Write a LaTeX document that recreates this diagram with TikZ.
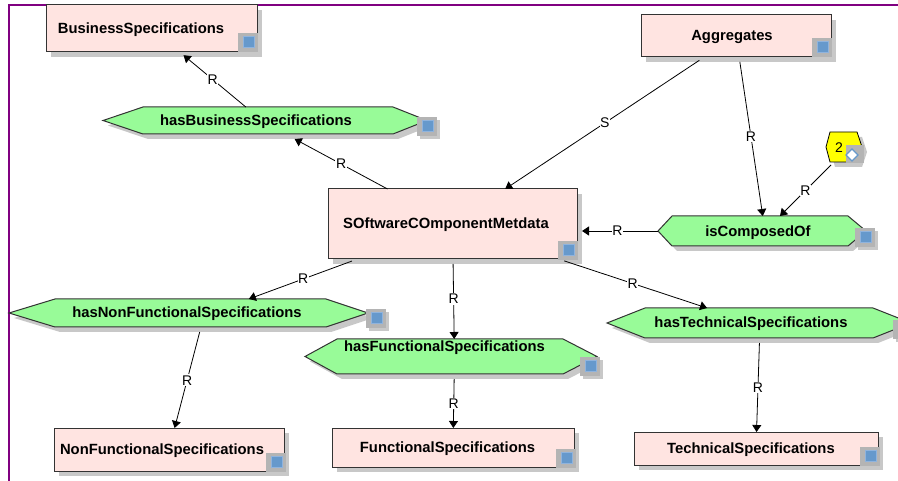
\documentclass[tikz,border=0pt]{standalone}
\usepackage{fontspec}
\setmainfont{Liberation Sans}
\usetikzlibrary{arrows.meta,shadows}
\definecolor{pinkfill}{HTML}{FFE4E1}
\definecolor{greenfill}{HTML}{98FB98}
\definecolor{shadowgray}{HTML}{C8C8C8}
\definecolor{icongray}{HTML}{B4B4B4}
\definecolor{iconblue}{HTML}{6699CC}
\definecolor{iconedge}{HTML}{8FB3DD}
\definecolor{boxedge}{HTML}{333333}
\definecolor{framepurple}{HTML}{800080}
\definecolor{yellowfill}{HTML}{FFFF00}
\tikzset{
  boxst/.style={draw=boxedge, line width=1pt, fill=pinkfill, inner sep=0pt, outer sep=0pt,
    drop shadow={shadow xshift=5pt, shadow yshift=-5pt, fill=shadowgray, opacity=1}},
  hexnode/.style={draw=none, inner sep=0pt, outer sep=0pt},
  hexst/.style={draw=boxedge, line width=1pt, fill=greenfill},
  lab/.style={font=\fontsize{14.8}{17}\selectfont\bfseries, text height=10.6pt, text depth=0pt, inner sep=0pt},
  conn/.style={draw=black, line width=0.8pt, -{Triangle[length=7pt,width=9pt]}},
  rl/.style={midway, fill=white, inner sep=0.6pt, font=\fontsize{14}{16}\selectfont, text height=10pt, text depth=0pt},
}
% hexagon: left tip x, top-left x, top-right x, right tip x, top y, bottom y
\newcommand\hexshape[6]{%
  \fill[shadowgray] ({#1+5},{(#5+#6)/2+5}) -- ({#2+5},{#5+5}) -- ({#3+5},{#5+5}) -- ({#4+5},{(#5+#6)/2+5}) -- ({#3+5},{#6+5}) -- ({#2+5},{#6+5}) -- cycle;
  \filldraw[hexst] (#1,{(#5+#6)/2}) -- (#2,#5) -- (#3,#5) -- (#4,{(#5+#6)/2}) -- (#3,#6) -- (#2,#6) -- cycle;}
% icon: top-left of gray square
\newcommand\myicon[2]{%
  \fill[shadowgray] ({#1+3},{#2+3}) rectangle ++(20,19);
  \fill[icongray] (#1,#2) rectangle ++(20,19);
  \filldraw[fill=iconblue, draw=iconedge, line width=0.6pt] ({#1+5},{#2+3}) rectangle ++(11,11);}
\begin{document}
\begin{tikzpicture}[x=1pt,y=-1pt]
\useasboundingbox (0,0) rectangle (898,481);
% frame
\draw[framepurple, line width=2pt] (9,481) -- (9,5) -- (898,5);

% hexagons
\hexshape{103}{143}{393}{427}{107}{134}
\hexshape{9}{55}{326}{368}{299}{327}
\hexshape{305}{337}{563}{597}{339}{374}
\hexshape{607}{645}{873}{911}{308}{338}
\hexshape{658}{672}{848}{866}{216}{246}

% yellow shape
\fill[shadowgray] (831,152) -- (835,137) -- (862,137) -- (867,152) -- (862,167) -- (835,167) -- cycle;
\filldraw[fill=yellowfill, draw=black, line width=0.8pt] (826,147) -- (830,132) -- (857,132) -- (862,147) -- (857,162) -- (830,162) -- cycle;
\fill[icongray] (846,145) rectangle (864,163);
\filldraw[fill=white, draw=iconblue, line width=1.2pt] (852,149) -- (858,155) -- (852,161) -- (846,155) -- cycle;

% boxes
\node[boxst, minimum width=211pt, minimum height=47pt] (bs) at (151.5,28.5) {};
\node[boxst, minimum width=190pt, minimum height=42pt] (agg) at (736,36) {};
\node[boxst, minimum width=249pt, minimum height=70pt] (soft) at (452.5,224) {};
\node[boxst, minimum width=230pt, minimum height=43pt] (nfs) at (169,449.5) {};
\node[boxst, minimum width=242pt, minimum height=39pt] (fs) at (453,447.5) {};
\node[boxst, minimum width=244pt, minimum height=33pt] (ts) at (756,448.5) {};

% icons
\myicon{238}{33}
\myicon{812}{38}
\myicon{558}{241}
\myicon{266}{453}
\myicon{556}{449}
\myicon{860}{447}
\myicon{417}{117}
\myicon{366}{309}
\myicon{580}{357}
\myicon{893}{320}
\myicon{855}{228}

% invisible hexagon nodes (shape incl. shadow)
\node[hexnode, minimum width=324pt, minimum height=32pt] (hbs) at (265,123) {};
\node[hexnode, minimum width=390pt, minimum height=33pt] (hnf) at (204,315.5) {};
\node[hexnode, minimum width=299pt, minimum height=40pt] (hf) at (454.5,359) {};
\node[hexnode, minimum width=306pt, minimum height=35pt] (ht) at (760,325.5) {};
\node[hexnode, minimum width=214pt, minimum height=30pt] (ico) at (765,231) {};
\node[hexnode, minimum width=36pt, minimum height=42pt] (two) at (849,147) {};

% texts
\node[lab] (t-bs) at (141,28) {BusinessSpecifications};
\node[lab] (t-agg) at (732,35) {Aggregates};
\node[lab] (t-soft) at (446,223) {SOftwareCOmponentMetdata};
\node[lab] (t-nfs) at (162,449) {NonFunctionalSpecifications};
\node[lab] (t-fs) at (447.5,447) {FunctionalSpecifications};
\node[lab] (t-ts) at (751,448) {TechnicalSpecifications};
\node[lab] (t-hbs) at (256,120.5) {hasBusinessSpecifications};
\node[lab] (t-hnf) at (187,312) {hasNonFunctionalSpecifications};
\node[lab] (t-hf) at (444.5,346) {hasFunctionalSpecifications};
\node[lab] (t-ht) at (751,322.5) {hasTechnicalSpecifications};
\node[lab] (t-ico) at (758,231) {isComposedOf};
\node[font=\fontsize{14}{16}\selectfont, text height=10pt, text depth=0pt, inner sep=0pt] (t-two) at (839,147.5) {2};

% connectors
\draw[conn, shorten >=5pt] (hbs) -- (bs) node[rl]{R};
\draw[conn] (soft) -- (hbs) node[rl]{R};
\draw[conn, shorten <=6pt] (agg) -- (soft) node[rl]{S};
\draw[conn, shorten <=5pt] (agg) -- (ico) node[rl]{R};
\draw[conn] (two) -- (ico) node[rl]{R};
\draw[conn, shorten >=5pt] (ico.west) -- (soft.east |- ico.west) node[rl]{R};
\draw[conn, shorten <=6pt] (soft) -- (hnf) node[rl]{R};
\draw[conn, shorten <=5pt] (soft) -- (hf) node[rl]{R};
\draw[conn, shorten <=6pt] (soft) -- (ht) node[rl]{R};
\draw[conn] (hnf) -- (nfs) node[rl]{R};
\draw[conn] (hf) -- (fs) node[rl]{R};
\draw[conn] (ht) -- (ts) node[rl]{R};
\end{tikzpicture}
\end{document}
